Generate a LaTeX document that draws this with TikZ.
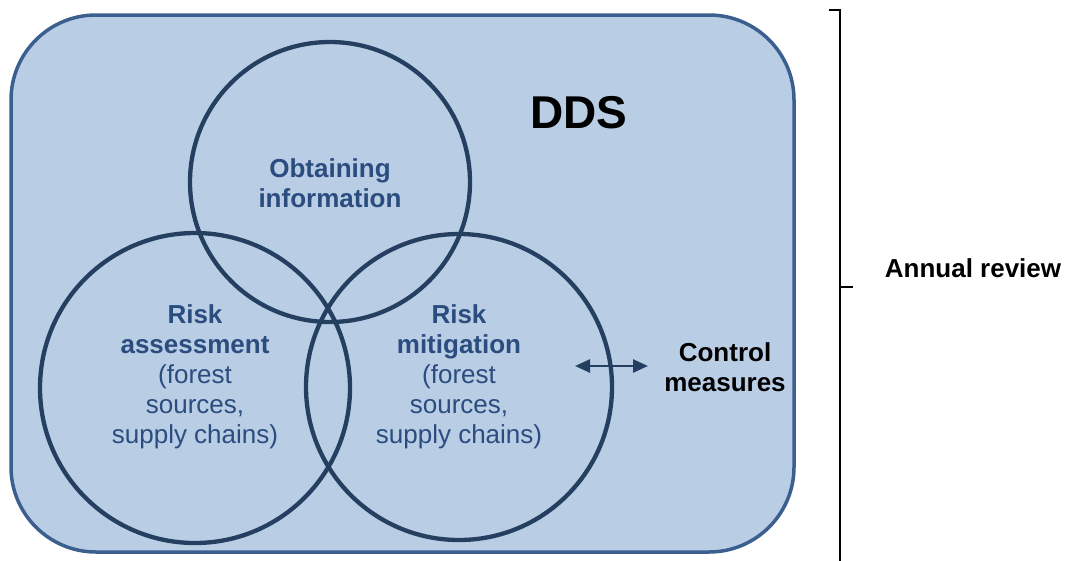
\documentclass[tikz,border=0pt]{standalone}
\usepackage{fontspec}
\setmainfont{Liberation Sans}
\usetikzlibrary{arrows.meta}
\definecolor{ddsfill}{HTML}{B9CDE5}
\definecolor{ddsedge}{HTML}{3B5F8E}
\definecolor{ringcol}{HTML}{243F60}
\definecolor{steptext}{HTML}{2A4C7E}
\begin{document}
\begin{tikzpicture}[x=1pt, y=-1pt,
    ring/.style={circle, draw=ringcol, line width=4.3pt, minimum size=#1, inner sep=0pt},
    steptxt/.style={text=steptext, align=center, font=\fontsize{26}{30}\selectfont},
    sidetxt/.style={text=black, align=center, font=\fontsize{26}{30}\selectfont\bfseries}]
    \useasboundingbox (0,0) rectangle (1067,560);

    % Outer DDS box
    \node[draw=ddsedge, fill=ddsfill, line width=3.5pt, rounded corners=85pt, minimum width=783pt, minimum height=537pt, inner sep=0pt] (dds) at (402.5,283.5) {};
    \node[font=\fontsize{46}{50}\selectfont\bfseries] (ddslabel) at (579,113) {DDS};

    % Three overlapping circles
    \node[ring=280pt] (info) at (330,182) {};
    \node[ring=310pt] (assess) at (195,388) {};
    \node[ring=306pt] (mitig) at (459,387) {};

    % Circle labels
    \node[steptxt] (infotxt) at (330,183) {\textbf{Obtaining}\\\textbf{information}};
    \node[steptxt] (assesstxt) at (195,377) {\textbf{Risk}\\\textbf{assessment}\\(forest\\sources,\\supply chains)};
    \node[steptxt] (mitigtxt) at (459,377) {\textbf{Risk}\\\textbf{mitigation}\\(forest\\sources,\\supply chains)};

    % Control measures and two-way arrow
    \node[sidetxt] (control) at (725,367) {Control\\measures};
    \coordinate (arrL) at (575,366);
    \coordinate (arrR) at (648,366);
    \draw[{Triangle[length=15pt,width=13pt]}-{Triangle[length=15pt,width=13pt]}, line width=2.5pt, ringcol] (arrL) -- (arrR);

    % Annual review bracket
    \coordinate (brTop) at (829,10);
    \coordinate (brMid) at (853,287);
    \coordinate (brEnd) at (840,562);
    \draw[line width=1.8pt] (brTop) -- (840,10) -- (840,287) -- (brMid);
    \draw[line width=1.8pt] (840,287) -- (brEnd);
    \node[sidetxt] (annual) at (973,268) {Annual review};
\end{tikzpicture}
\end{document}
